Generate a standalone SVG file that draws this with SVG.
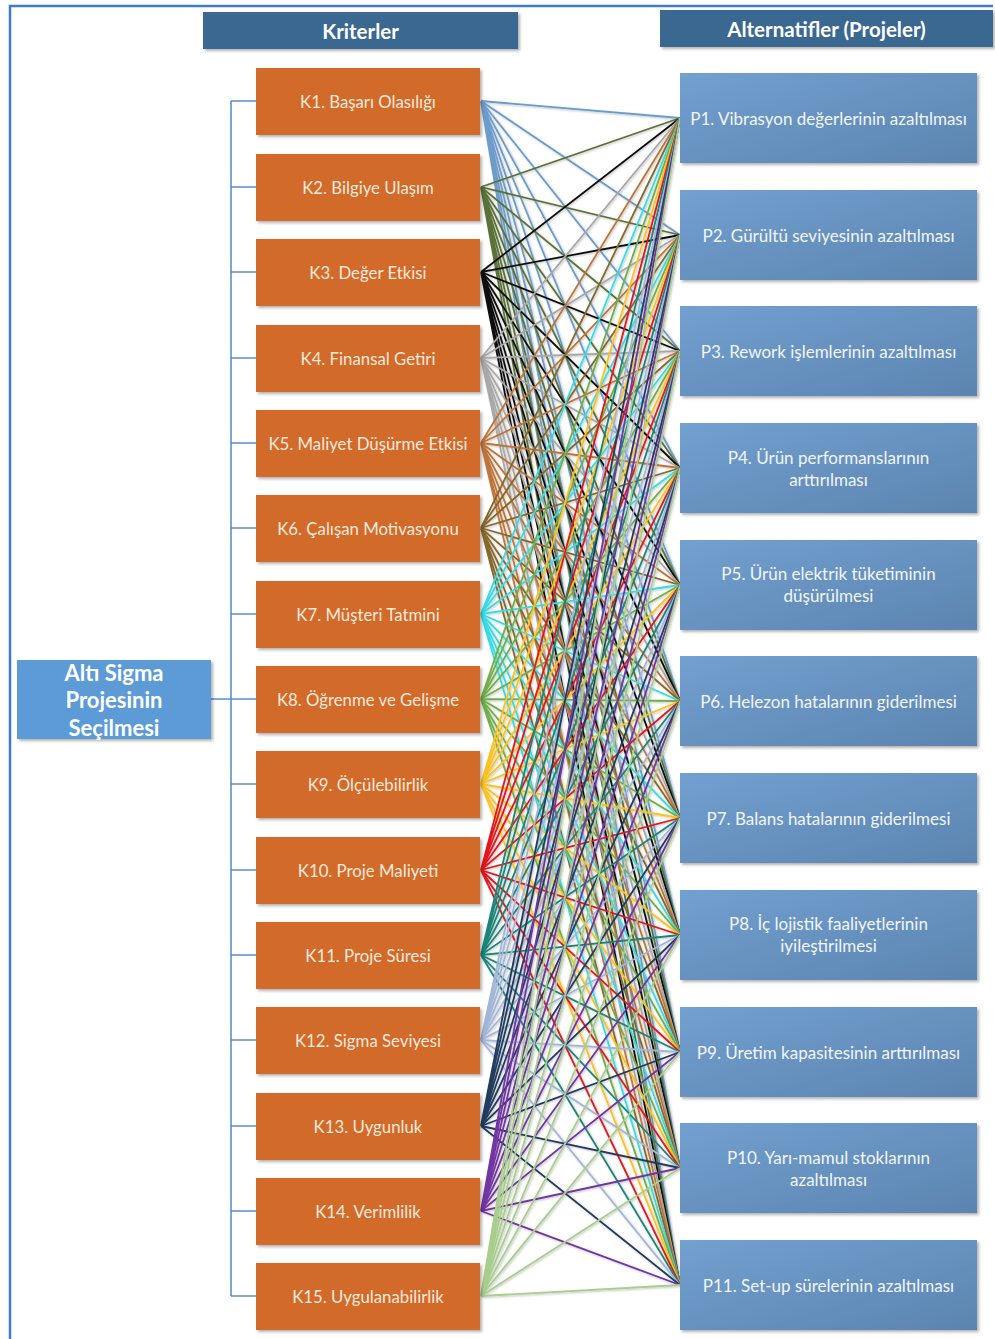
<svg xmlns="http://www.w3.org/2000/svg" width="995" height="1339" viewBox="0 0 995 1339">
  <style>
    text { font-family: Lato, "Open Sans", "Liberation Sans", sans-serif; text-anchor: middle; dominant-baseline: central; }
    .hdr { fill: #3B6890; filter: url(#shadow); }
    .hdr-t { fill: #ffffff; font-size: 20.5px; font-weight: bold; }
    .krit { fill: #D26A2A; filter: url(#shadow); }
    .krit-t { fill: #F8E9DC; font-size: 16.8px; }
    .proj { fill: url(#projGrad); filter: url(#shadow); }
    .proj-t { fill: #F2F5F9; font-size: 17px; }
    .root { fill: #5B9BD5; filter: url(#shadow); }
    .root-t { fill: #ffffff; font-size: 22px; font-weight: bold; }
    .tree { fill: none; stroke: #5B8FCB; stroke-width: 1.6; }
    .frame { fill: none; stroke: #3F7CC4; stroke-width: 2.5; }
    .links path { fill: none; stroke-width: 1.8; }
    .c1 { stroke: #6C9CCB; }
    .c2 { stroke: #5A7237; }
    .c3 { stroke: #111111; }
    .c4 { stroke: #A8A8A8; }
    .c5 { stroke: #BF7438; }
    .c6 { stroke: #86682C; }
    .c7 { stroke: #35DCE6; }
    .c8 { stroke: #6FAE48; }
    .c9 { stroke: #FFC21A; }
    .c10 { stroke: #E3161B; }
    .c11 { stroke: #1C8579; }
    .c12 { stroke: #A2B6DA; }
    .c13 { stroke: #213B5E; }
    .c14 { stroke: #7235A2; }
    .c15 { stroke: #A8CE8C; }
  </style>
  <defs>
    <filter id="shadow" x="-10%" y="-10%" width="125%" height="135%">
      <feDropShadow dx="2" dy="2" stdDeviation="1.5" flood-color="#000" flood-opacity="0.3"/>
    </filter>
    <filter id="lineShadow" x="-5%" y="-5%" width="110%" height="110%">
      <feDropShadow dx="1" dy="1" stdDeviation="1" flood-color="#000" flood-opacity="0.25"/>
    </filter>
    <linearGradient id="projGrad" x1="0" y1="0" x2="1" y2="1">
      <stop offset="0" stop-color="#72A0D0"/>
      <stop offset="1" stop-color="#5C84B0"/>
    </linearGradient>
  </defs>

  <rect width="995" height="1339" fill="#ffffff"/>
  <!-- page frame -->
  <path class="frame" d="M10 1339V6H993"/>

  <!-- column headers -->
  <g id="header-kriterler">
    <rect class="hdr" x="203" y="12" width="315" height="37"/>
    <text class="hdr-t" x="360.5" y="31">Kriterler</text>
  </g>
  <g id="header-alternatifler">
    <rect class="hdr" x="660" y="10" width="333" height="37"/>
    <text class="hdr-t" x="826.5" y="29">Alternatifler (Projeler)</text>
  </g>

  <!-- tree from goal to criteria -->
  <g id="tree">
    <path class="tree" d="M211 699H231M231 101V1296M231 101H256M231 187H256M231 272H256M231 358H256M231 443H256M231 528H256M231 614H256M231 699H256M231 784H256M231 870H256M231 955H256M231 1040H256M231 1126H256M231 1211H256M231 1296H256"/>
  </g>

  <!-- criteria-to-project links: every criterion joins every project -->
  <g id="connectors" class="links" filter="url(#lineShadow)">
    <path class="c1" d="M481 101L680 118M481 101L680 235M481 101L680 351M481 101L680 468M481 101L680 585M481 101L680 701M481 101L680 818M481 101L680 935M481 101L680 1052M481 101L680 1168M481 101L680 1285"/>
    <path class="c2" d="M481 187L680 118M481 187L680 235M481 187L680 351M481 187L680 468M481 187L680 585M481 187L680 701M481 187L680 818M481 187L680 935M481 187L680 1052M481 187L680 1168M481 187L680 1285"/>
    <path class="c3" d="M481 272L680 118M481 272L680 235M481 272L680 351M481 272L680 468M481 272L680 585M481 272L680 701M481 272L680 818M481 272L680 935M481 272L680 1052M481 272L680 1168M481 272L680 1285"/>
    <path class="c4" d="M481 358L680 118M481 358L680 235M481 358L680 351M481 358L680 468M481 358L680 585M481 358L680 701M481 358L680 818M481 358L680 935M481 358L680 1052M481 358L680 1168M481 358L680 1285"/>
    <path class="c5" d="M481 443L680 118M481 443L680 235M481 443L680 351M481 443L680 468M481 443L680 585M481 443L680 701M481 443L680 818M481 443L680 935M481 443L680 1052M481 443L680 1168M481 443L680 1285"/>
    <path class="c6" d="M481 528L680 118M481 528L680 235M481 528L680 351M481 528L680 468M481 528L680 585M481 528L680 701M481 528L680 818M481 528L680 935M481 528L680 1052M481 528L680 1168M481 528L680 1285"/>
    <path class="c7" d="M481 614L680 118M481 614L680 235M481 614L680 351M481 614L680 468M481 614L680 585M481 614L680 701M481 614L680 818M481 614L680 935M481 614L680 1052M481 614L680 1168M481 614L680 1285"/>
    <path class="c8" d="M481 699L680 118M481 699L680 235M481 699L680 351M481 699L680 468M481 699L680 585M481 699L680 701M481 699L680 818M481 699L680 935M481 699L680 1052M481 699L680 1168M481 699L680 1285"/>
    <path class="c9" d="M481 784L680 118M481 784L680 235M481 784L680 351M481 784L680 468M481 784L680 585M481 784L680 701M481 784L680 818M481 784L680 935M481 784L680 1052M481 784L680 1168M481 784L680 1285"/>
    <path class="c10" d="M481 870L680 118M481 870L680 235M481 870L680 351M481 870L680 468M481 870L680 585M481 870L680 701M481 870L680 818M481 870L680 935M481 870L680 1052M481 870L680 1168M481 870L680 1285"/>
    <path class="c11" d="M481 955L680 118M481 955L680 235M481 955L680 351M481 955L680 468M481 955L680 585M481 955L680 701M481 955L680 818M481 955L680 935M481 955L680 1052M481 955L680 1168M481 955L680 1285"/>
    <path class="c12" d="M481 1040L680 118M481 1040L680 235M481 1040L680 351M481 1040L680 468M481 1040L680 585M481 1040L680 701M481 1040L680 818M481 1040L680 935M481 1040L680 1052M481 1040L680 1168M481 1040L680 1285"/>
    <path class="c13" d="M481 1126L680 118M481 1126L680 235M481 1126L680 351M481 1126L680 468M481 1126L680 585M481 1126L680 701M481 1126L680 818M481 1126L680 935M481 1126L680 1052M481 1126L680 1168M481 1126L680 1285"/>
    <path class="c14" d="M481 1211L680 118M481 1211L680 235M481 1211L680 351M481 1211L680 468M481 1211L680 585M481 1211L680 701M481 1211L680 818M481 1211L680 935M481 1211L680 1052M481 1211L680 1168M481 1211L680 1285"/>
    <path class="c15" d="M481 1296L680 118M481 1296L680 235M481 1296L680 351M481 1296L680 468M481 1296L680 585M481 1296L680 701M481 1296L680 818M481 1296L680 935M481 1296L680 1052M481 1296L680 1168M481 1296L680 1285"/>
  </g>

  <!-- goal -->
  <g id="goal">
    <rect class="root" x="17" y="660" width="194" height="79"/>
    <text class="root-t" x="114" y="672">Altı Sigma</text>
    <text class="root-t" x="114" y="699">Projesinin</text>
    <text class="root-t" x="114" y="727">Seçilmesi</text>
  </g>

  <!-- criteria -->
  <g id="K1"><rect class="krit" x="256" y="68" width="224" height="67"/><text class="krit-t" x="368" y="101">K1. Başarı Olasılığı</text></g>
  <g id="K2"><rect class="krit" x="256" y="154" width="224" height="67"/><text class="krit-t" x="368" y="187">K2. Bilgiye Ulaşım</text></g>
  <g id="K3"><rect class="krit" x="256" y="239" width="224" height="67"/><text class="krit-t" x="368" y="272">K3. Değer Etkisi</text></g>
  <g id="K4"><rect class="krit" x="256" y="325" width="224" height="67"/><text class="krit-t" x="368" y="358">K4. Finansal Getiri</text></g>
  <g id="K5"><rect class="krit" x="256" y="410" width="224" height="67"/><text class="krit-t" x="368" y="443">K5. Maliyet Düşürme Etkisi</text></g>
  <g id="K6"><rect class="krit" x="256" y="495" width="224" height="67"/><text class="krit-t" x="368" y="528">K6. Çalışan Motivasyonu</text></g>
  <g id="K7"><rect class="krit" x="256" y="581" width="224" height="67"/><text class="krit-t" x="368" y="614">K7. Müşteri Tatmini</text></g>
  <g id="K8"><rect class="krit" x="256" y="666" width="224" height="67"/><text class="krit-t" x="368" y="699">K8. Öğrenme ve Gelişme</text></g>
  <g id="K9"><rect class="krit" x="256" y="751" width="224" height="67"/><text class="krit-t" x="368" y="784">K9. Ölçülebilirlik</text></g>
  <g id="K10"><rect class="krit" x="256" y="837" width="224" height="67"/><text class="krit-t" x="368" y="870">K10. Proje Maliyeti</text></g>
  <g id="K11"><rect class="krit" x="256" y="922" width="224" height="67"/><text class="krit-t" x="368" y="955">K11. Proje Süresi</text></g>
  <g id="K12"><rect class="krit" x="256" y="1007" width="224" height="67"/><text class="krit-t" x="368" y="1040">K12. Sigma Seviyesi</text></g>
  <g id="K13"><rect class="krit" x="256" y="1093" width="224" height="67"/><text class="krit-t" x="368" y="1126">K13. Uygunluk</text></g>
  <g id="K14"><rect class="krit" x="256" y="1178" width="224" height="67"/><text class="krit-t" x="368" y="1211">K14. Verimlilik</text></g>
  <g id="K15"><rect class="krit" x="256" y="1263" width="224" height="67"/><text class="krit-t" x="368" y="1296">K15. Uygulanabilirlik</text></g>

  <!-- projects -->
  <g id="P1"><rect class="proj" x="680" y="73" width="297" height="90"/><text class="proj-t" x="828.5" y="118">P1. Vibrasyon değerlerinin azaltılması</text></g>
  <g id="P2"><rect class="proj" x="680" y="190" width="297" height="90"/><text class="proj-t" x="828.5" y="235">P2. Gürültü seviyesinin azaltılması</text></g>
  <g id="P3"><rect class="proj" x="680" y="306" width="297" height="90"/><text class="proj-t" x="828.5" y="351">P3. Rework işlemlerinin azaltılması</text></g>
  <g id="P4"><rect class="proj" x="680" y="423" width="297" height="90"/><text class="proj-t" x="828.5" y="457">P4. Ürün performanslarının</text><text class="proj-t" x="828.5" y="479">arttırılması</text></g>
  <g id="P5"><rect class="proj" x="680" y="540" width="297" height="90"/><text class="proj-t" x="828.5" y="573">P5. Ürün elektrik tüketiminin</text><text class="proj-t" x="828.5" y="595">düşürülmesi</text></g>
  <g id="P6"><rect class="proj" x="680" y="656" width="297" height="90"/><text class="proj-t" x="828.5" y="701">P6. Helezon hatalarının giderilmesi</text></g>
  <g id="P7"><rect class="proj" x="680" y="773" width="297" height="90"/><text class="proj-t" x="828.5" y="818">P7. Balans hatalarının giderilmesi</text></g>
  <g id="P8"><rect class="proj" x="680" y="890" width="297" height="90"/><text class="proj-t" x="828.5" y="923">P8. İç lojistik faaliyetlerinin</text><text class="proj-t" x="828.5" y="945">iyileştirilmesi</text></g>
  <g id="P9"><rect class="proj" x="680" y="1007" width="297" height="90"/><text class="proj-t" x="828.5" y="1052">P9. Üretim kapasitesinin arttırılması</text></g>
  <g id="P10"><rect class="proj" x="680" y="1123" width="297" height="90"/><text class="proj-t" x="828.5" y="1157">P10. Yarı-mamul stoklarının</text><text class="proj-t" x="828.5" y="1179">azaltılması</text></g>
  <g id="P11"><rect class="proj" x="680" y="1240" width="297" height="90"/><text class="proj-t" x="828.5" y="1285">P11. Set-up sürelerinin azaltılması</text></g>
</svg>
